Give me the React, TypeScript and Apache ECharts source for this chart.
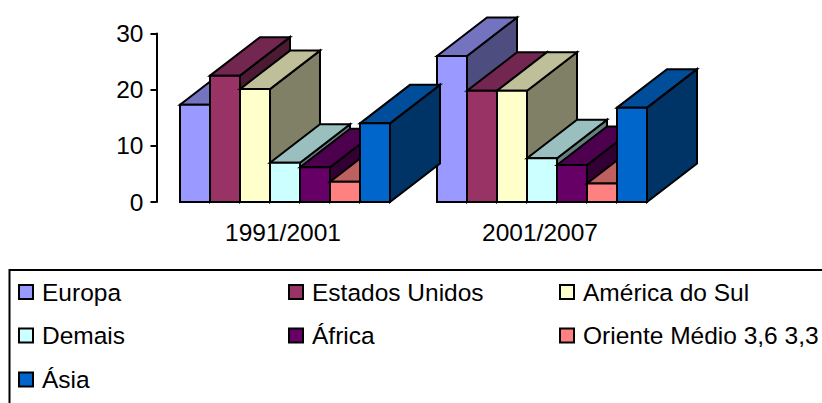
import React, { useEffect, useRef } from "react";
import * as echarts from "echarts";

const periods = ["1991/2001", "2001/2007"];
const regions = ["Europa", "Estados Unidos", "América do Sul", "Demais", "África", "Oriente Médio 3,6 3,3", "Ásia"];
const europa = [17.3, 26];
const estadosUnidos = [22.5, 19.8];
const americaDoSul = [20.1, 19.8];
const demais = [7, 7.8];
const africa = [6.2, 6.6];
const orienteMedio = [3.6, 3.3];
const asia = [14, 16.8];
const regionValues = [europa, estadosUnidos, americaDoSul, demais, africa, orienteMedio, asia];
const frontColors = ["#9999FF", "#993366", "#FFFFCC", "#CCFFFF", "#660066", "#FF8080", "#0066CC"];
const topColors = ["#7373BF", "#732650", "#BFBF99", "#99BFBF", "#4D004D", "#BF6060", "#004D99"];
const sideColors = ["#4D4D80", "#4D1A33", "#808066", "#668080", "#330033", "#804040", "#003366"];
const yTicks = { min: 0, max: 30, interval: 10 };

const BAR_W = 30;
const DEPTH_X = 50;
const DEPTH_Y = 38.5;
const FONT = "'Liberation Sans', Arial, sans-serif";
const FONT_SIZE = 24.5;
const LINE = 2;

const legendX = [18, 288, 559];
const legendY = [293.5, 337, 381];

function makeSeries(i: number) {
  return {
    type: "custom",
    name: regions[i],
    data: regionValues[i].map((v, k) => [k, v]),
    encode: { x: 0, y: 1 },
    z: 2 + i,
    clip: false,
    itemStyle: { color: frontColors[i] },
    renderItem: (_p: any, api: any) => {
      const top = api.coord([api.value(0), api.value(1)]);
      const base = api.coord([api.value(0), 0]);
      const x0 = top[0] + (i - 3.5) * BAR_W;
      const x1 = x0 + BAR_W;
      const y0 = top[1];
      const y1 = base[1];
      const stroke = { stroke: "#000", lineWidth: LINE, lineJoin: "miter" };
      return {
        type: "group",
        children: [
          {
            type: "polygon",
            shape: { points: [[x1, y0], [x1 + DEPTH_X, y0 - DEPTH_Y], [x1 + DEPTH_X, y1 - DEPTH_Y], [x1, y1]] },
            style: { fill: sideColors[i], ...stroke },
          },
          {
            type: "polygon",
            shape: { points: [[x0, y0], [x0 + DEPTH_X, y0 - DEPTH_Y], [x1 + DEPTH_X, y0 - DEPTH_Y], [x1, y0]] },
            style: { fill: topColors[i], ...stroke },
          },
          {
            type: "polygon",
            shape: { points: [[x0, y0], [x1, y0], [x1, y1], [x0, y1]] },
            style: { fill: frontColors[i], ...stroke },
          },
        ],
      };
    },
  };
}

export default function App() {
  const ref = useRef<HTMLDivElement>(null);
  useEffect(() => {
    document.body.style.margin = "0";
    const chart = echarts.init(ref.current!, null, { renderer: "svg" });
    chart.setOption({
      animation: false,
      backgroundColor: "#fff",
      grid: { left: 156.5, top: 33.5, width: 514, height: 168.5 },
      xAxis: {
        type: "category",
        data: periods,
        axisLine: { show: false },
        axisTick: { show: false },
        axisLabel: { color: "#000", fontSize: FONT_SIZE, fontFamily: FONT, margin: 18, padding: [0, 4, 0, 0] },
      },
      yAxis: {
        type: "value",
        ...yTicks,
        splitLine: { show: false },
        axisLine: { show: true, lineStyle: { color: "#000", width: 2 } },
        axisTick: { show: true, length: 6, lineStyle: { color: "#000", width: 2 } },
        axisLabel: { color: "#000", fontSize: FONT_SIZE, fontFamily: FONT, margin: 13 },
      },
      legend: regions.map((name, i) => ({
        data: [name],
        left: legendX[i % 3],
        top: legendY[Math.floor(i / 3)] - 14,
        orient: "horizontal",
        padding: 0,
        icon: "rect",
        itemWidth: 14,
        itemHeight: 14,
        selectedMode: false,
        itemStyle: { borderColor: "#000", borderWidth: 2 },
        textStyle: { color: "#000", fontSize: FONT_SIZE, fontFamily: FONT, padding: [2, 0, 0, 4] },
      })),
      graphic: [
        {
          type: "rect",
          silent: true,
          z: -1,
          shape: { x: 9.5, y: 270, width: 830, height: 150 },
          style: { fill: "none", stroke: "#000", lineWidth: 2 },
        },
      ],
      series: regions.map((_, i) => makeSeries(i)),
    });
    return () => chart.dispose();
  }, []);
  return <div ref={ref} style={{ width: 822, height: 403 }} />;
}
